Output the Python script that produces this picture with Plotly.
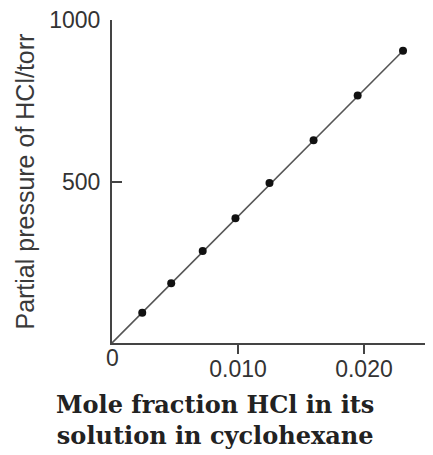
import plotly.graph_objects as go

# Data
mole_fraction = [0.0024, 0.0047, 0.0072, 0.0098, 0.0125, 0.0160, 0.0195, 0.0231]
pressure = [94, 185, 285, 386, 495, 628, 766, 905]

fit_x = [0, 0.0231]
fit_y = [0, 905]

x_tickvals = [0.010, 0.020]
x_ticktext = ["0.010", "0.020"]
y_tickvals = [500, 1000]
y_ticktext = ["500", "1000"]

x_title = "Mole fraction HCl in its<br>solution in cyclohexane"
y_title = "Partial pressure of HCl/torr"

fig = go.Figure()
fig.add_trace(go.Scatter(x=fit_x, y=fit_y, mode="lines",
                         line=dict(color="#555555", width=1.6),
                         showlegend=False, hoverinfo="skip"))
fig.add_trace(go.Scatter(x=mole_fraction, y=pressure, mode="markers",
                         marker=dict(color="#111111", size=8),
                         showlegend=False))

axis_color = "#444444"
tick_font = dict(family="Liberation Sans, Arial, sans-serif", size=23, color="#333333")

# The page body has an 8px margin, so the figure is sized 8px smaller.
fig.update_layout(
    width=425, height=447,
    margin=dict(l=104, r=0, t=12, b=112),
    paper_bgcolor="white", plot_bgcolor="white",
    xaxis=dict(range=[0, 0.02548], showgrid=False, zeroline=False,
               showline=True, linecolor=axis_color, linewidth=2,
               tickvals=x_tickvals, ticktext=x_ticktext,
               ticks="outside", ticklen=9, tickwidth=2, tickcolor=axis_color,
               tickfont=tick_font, ticklabelstandoff=-5,
               ticklabeloverflow="allow"),
    yaxis=dict(range=[0, 1000], showgrid=False, zeroline=False,
               showline=True, linecolor=axis_color, linewidth=2,
               tickvals=y_tickvals, ticktext=y_ticktext,
               ticks="inside", ticklen=10, tickwidth=2, tickcolor=axis_color,
               tickfont=tick_font, ticklabelstandoff=5,
               ticklabeloverflow="allow"),
    annotations=[
        dict(text="0", x=0, y=0.0, xref="x", yref="paper",
             xanchor="center", yanchor="top", showarrow=False,
             font=tick_font),
        dict(text=y_title, x=-0.274, y=0.5, xref="paper", yref="paper",
             xanchor="center", yanchor="middle", textangle=-90, showarrow=False,
             font=dict(family="Liberation Sans, Arial, sans-serif", size=25, color="#3a3a3a")),
        dict(text="<b>" + x_title + "</b>", x=0.321, y=-0.139, xref="paper", yref="paper",
             xanchor="center", yanchor="top", showarrow=False, align="center",
             font=dict(family="DejaVu Serif, serif", size=24, color="#222222")),
    ],
)

fig.write_html("out.html")
